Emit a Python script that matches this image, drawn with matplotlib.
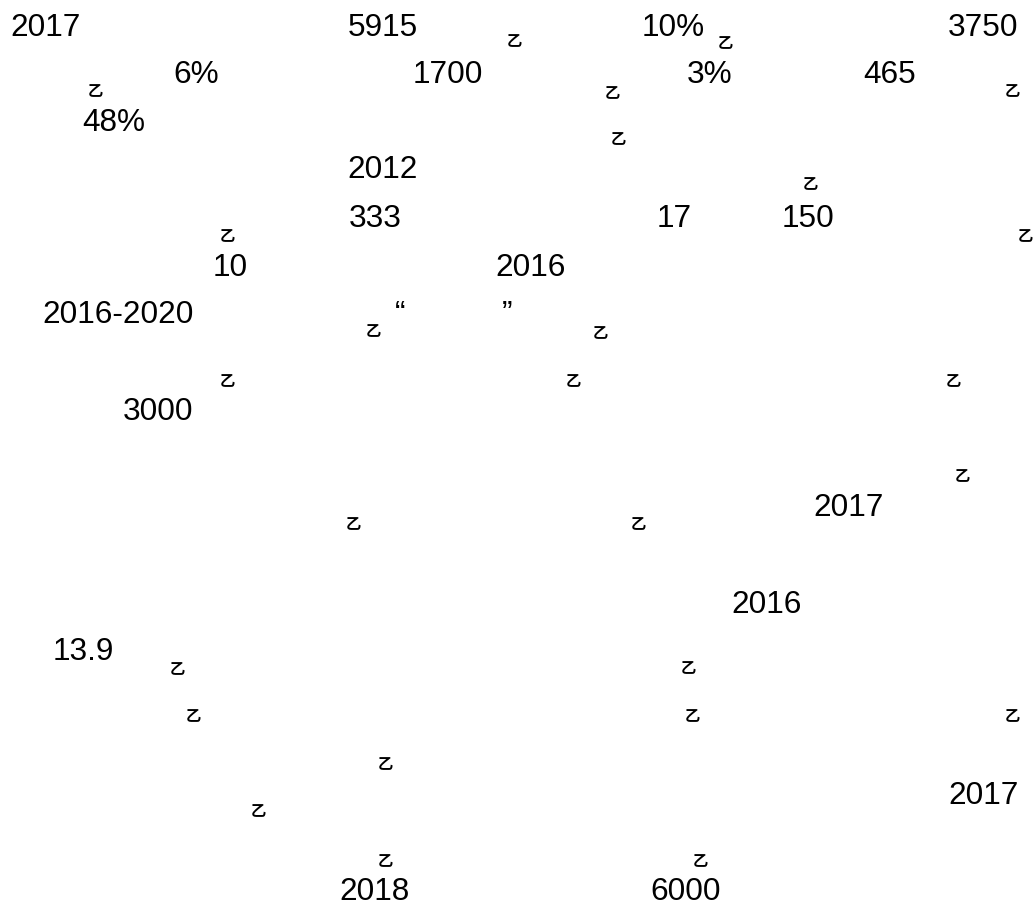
import matplotlib
matplotlib.use("Agg")
import matplotlib.pyplot as plt

# Word tokens (numbers) shown in the cloud
words = ["2017", "5915", "10%", "3750",
         "6%", "1700", "3%", "465",
         "48%", "2012",
         "333", "17", "150",
         "10", "2016",
         "2016-2020", "\u201c", "\u201d",
         "3000", "2017", "2016", "13.9",
         "2017", "2018", "6000"]
word_x = [10, 348, 642, 948,
          173, 413, 687, 863,
          82, 347,
          349, 657, 782,
          213, 495,
          42, 395, 502,
          123, 813, 731, 53,
          948, 339, 650]
word_y = [36, 36, 36, 36,
          83, 83, 83, 83,
          131, 178,
          227, 227, 227,
          276, 276,
          323, 323, 323,
          420, 516, 613, 660,
          804, 900, 900]

# Small glyph marks scattered in the cloud
mark_x = [95, 514, 725, 612, 618, 1012, 810,
          227, 373, 227, 1025, 600, 573, 953,
          353, 177, 962, 638, 688,
          193, 385, 258, 385, 692, 1012, 700]
mark_y = [90, 40, 42, 92, 138, 90, 183,
          235, 330, 380, 235, 332, 380, 380,
          523, 668, 475, 523, 667,
          715, 763, 810, 860, 715, 715, 860]

fig = plt.figure(figsize=(10.35, 9.07), dpi=100)
ax = fig.add_axes([0, 0, 1, 1])
ax.set_xlim(0, 1035)
ax.set_ylim(907, 0)
ax.axis("off")

for w, x, y in zip(words, word_x, word_y):
    ax.text(x, y, w, ha="left", va="baseline", fontsize=22.7,
            family=["Liberation Sans", "DejaVu Sans"], color="black")

for x, y in zip(mark_x, mark_y):
    ax.text(x, y, "\u4e59", ha="center", va="center", fontsize=11,
            fontweight="bold",
            family=["Noto Sans CJK SC", "DejaVu Sans"], color="black")

fig.savefig("out.png", dpi=100, facecolor="white")
